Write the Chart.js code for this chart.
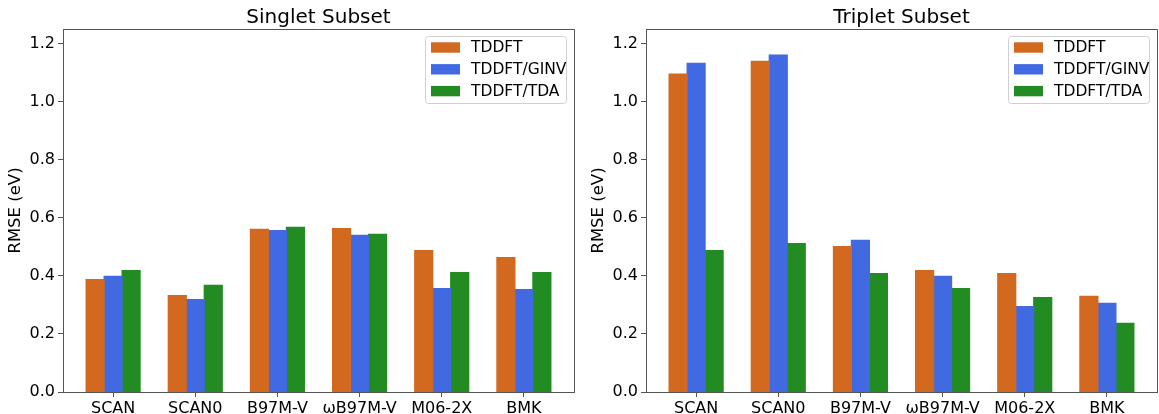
<!DOCTYPE html>
<html>
<head>
<meta charset="utf-8">
<script src="https://cdn.jsdelivr.net/npm/chart.js@4.4.1/dist/chart.umd.min.js"></script>
<style>
  html, body { margin: 0; padding: 0; background: #fff; }
  #wrap { position: relative; width: 1159px; height: 414px; }
  canvas { position: absolute; top: 0; }
  #singlet { left: 0; }
  #triplet { left: 583px; }
</style>
</head>
<body>
<div id="wrap">
  <canvas id="singlet" width="580" height="414"></canvas>
  <canvas id="triplet" width="576" height="414"></canvas>
</div>
<script>
// values
const categories = ['SCAN', 'SCAN0', 'B97M-V', 'ωB97M-V', 'M06-2X', 'BMK'];
const seriesNames = ['TDDFT', 'TDDFT/GINV', 'TDDFT/TDA'];
const seriesColors = ['#D2691E', '#4169E1', '#228B22'];

const singletTDDFT = [0.387, 0.332, 0.560, 0.563, 0.487, 0.463];
const singletGINV  = [0.398, 0.318, 0.556, 0.539, 0.356, 0.353];
const singletTDA   = [0.418, 0.367, 0.567, 0.543, 0.411, 0.411];

const tripletTDDFT = [1.095, 1.139, 0.501, 0.418, 0.408, 0.329];
const tripletGINV  = [1.132, 1.160, 0.522, 0.398, 0.294, 0.305];
const tripletTDA   = [0.487, 0.511, 0.408, 0.356, 0.325, 0.236];

const yTicks = [0, 0.2, 0.4, 0.6, 0.8, 1.0, 1.2];

Chart.defaults.font.family = 'DejaVu Sans';
Chart.defaults.color = '#000';

const spineColor = '#555';

// top/right spines, panel title and the legend box inside the plot
const framePlugin = {
    id: 'framePlugin',
    afterDraw(chart, args, opts) {
        const ctx = chart.ctx;
        const a = chart.chartArea;
        ctx.save();
        ctx.strokeStyle = spineColor;
        ctx.lineWidth = 1;
        ctx.beginPath();
        ctx.moveTo(a.left, a.top + 0.5);
        ctx.lineTo(a.right + 0.5, a.top + 0.5);
        ctx.lineTo(a.right + 0.5, a.bottom);
        ctx.stroke();

        ctx.fillStyle = '#000';
        ctx.font = '20px "DejaVu Sans"';
        ctx.textAlign = 'center';
        ctx.textBaseline = 'alphabetic';
        ctx.fillText(opts.title, (a.left + a.right) / 2, 23);

        // legend
        const bw = 141, bh = 67;
        const bx = a.right - 8 - bw, by = a.top + 7;
        ctx.beginPath();
        ctx.roundRect(bx + 0.5, by + 0.5, bw, bh, 3);
        ctx.fillStyle = 'rgba(255,255,255,0.8)';
        ctx.fill();
        ctx.strokeStyle = '#d0d0d0';
        ctx.stroke();

        ctx.font = '15.5px "DejaVu Sans"';
        ctx.textAlign = 'left';
        ctx.textBaseline = 'middle';
        chart.data.datasets.forEach((ds, i) => {
            const cy = by + 11.5 + i * 21.8;
            ctx.fillStyle = ds.backgroundColor;
            ctx.fillRect(bx + 6, cy - 5.2, 29, 10.4);
            ctx.fillStyle = '#000';
            ctx.fillText(ds.label, bx + 46, cy + 0.5);
        });
        ctx.restore();
    }
};

function makeChart(id, title, seriesValues) {
    const canvas = document.getElementById(id);
    return new Chart(canvas, {
        type: 'bar',
        data: {
            datasets: seriesValues.map((vals, k) => ({
                label: seriesNames[k],
                data: vals.map((v, i) => ({ x: i, y: v })),
                backgroundColor: seriesColors[k],
                borderWidth: 0,
                inflateAmount: 0.6,
                categoryPercentage: 0.657,
                barPercentage: 1.0
            }))
        },
        options: {
            responsive: false,
            animation: false,
            devicePixelRatio: 1,
            layout: { padding: { top: 29, right: canvas.width - 574, left: 0, bottom: 0 } },
            plugins: {
                legend: { display: false },
                tooltip: { enabled: false },
                framePlugin: { title: title }
            },
            scales: {
                x: {
                    type: 'linear',
                    min: -0.61,
                    max: 5.61,
                    offset: false,
                    grid: { display: true, offset: false, drawOnChartArea: false, drawTicks: true, tickLength: 5, color: spineColor },
                    border: { display: true, color: spineColor, width: 1 },
                    afterBuildTicks: s => { s.ticks = categories.map((c, i) => ({ value: i })); },
                    afterFit: s => { s.height = 22; },
                    ticks: {
                        autoSkip: false,
                        maxRotation: 0,
                        padding: 2,
                        font: { size: 16 },
                        callback: v => categories[v]
                    }
                },
                y: {
                    min: 0,
                    max: 1.25,
                    grid: { display: true, drawOnChartArea: false, drawTicks: true, tickLength: 5, color: spineColor },
                    border: { display: true, color: spineColor, width: 1 },
                    afterBuildTicks: s => { s.ticks = yTicks.map(v => ({ value: v })); },
                    afterFit: s => { s.width = 63; },
                    title: {
                        display: true,
                        text: 'RMSE (eV)',
                        font: { size: 16.5 },
                        padding: { top: 6, bottom: 0 }
                    },
                    ticks: {
                        padding: 3,
                        font: { size: 16 },
                        callback: v => v.toFixed(1)
                    }
                }
            }
        },
        plugins: [framePlugin]
    });
}

makeChart('singlet', 'Singlet Subset', [singletTDDFT, singletGINV, singletTDA]);
makeChart('triplet', 'Triplet Subset', [tripletTDDFT, tripletGINV, tripletTDA]);
</script>
</body>
</html>
